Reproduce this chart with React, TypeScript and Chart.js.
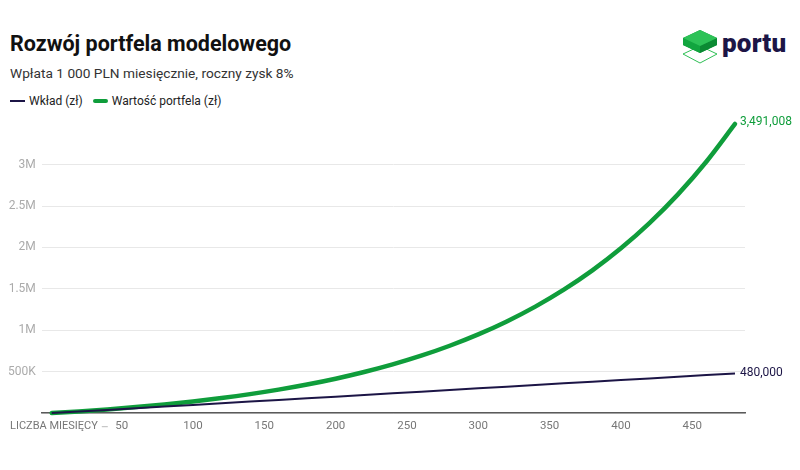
import React, { useEffect, useRef } from "react";
import { Chart, registerables } from "chart.js";

Chart.register(...registerables);

// ---- data ----
const months = [1, 20, 40, 60, 80, 100, 120, 140, 160, 180, 200, 220, 240, 260, 280, 300, 320, 340, 360, 380, 400, 420, 440, 460, 480];
const contributions = [1000, 20000, 40000, 60000, 80000, 100000, 120000, 140000, 160000, 180000, 200000, 220000, 240000, 260000, 280000, 300000, 320000, 340000, 360000, 380000, 400000, 420000, 440000, 460000, 480000];
const portfolioValues = [1000, 21318, 45668, 73478, 105239, 141515, 182946, 230268, 284315, 346038, 416538, 497060, 589020, 694052, 814014, 951026, 1107550, 1286234, 1490359, 1723500, 1989765, 2293875, 2641215, 3037905, 3491008];
const xTickValues = [50, 100, 150, 200, 250, 300, 350, 400, 450];
const yTickValues = [0, 500000, 1000000, 1500000, 2000000, 2500000, 3000000];
const yTickLabels = ["", "500K", "1M", "1.5M", "2M", "2.5M", "3M"];
const seriesLabels = ["Wkład (zł)", "Wartość portfela (zł)"];
const xAxisLabel = "LICZBA MIESIĘCY";
const titleText = "Rozwój portfela modelowego";
const subtitleText = "Wpłata 1 000 PLN miesięcznie, roczny zysk 8%";

const NAVY = "#1c1546";
const GREEN = "#0f9d3b";
const FONT = "Roboto, 'Noto Sans', sans-serif";

const endLabelsPlugin = {
  id: "endLabels",
  afterDatasetsDraw(chart: any) {
    const ctx = chart.ctx;
    chart.data.datasets.forEach((ds: any, i: number) => {
      const meta = chart.getDatasetMeta(i);
      const pt = meta.data[meta.data.length - 1];
      const v = ds.data[ds.data.length - 1].y;
      ctx.save();
      ctx.font = `12px ${FONT}`;
      ctx.fillStyle = ds.borderColor;
      ctx.textAlign = "left";
      ctx.textBaseline = "middle";
      ctx.fillText(v.toLocaleString("en-US"), pt.x + 5, pt.y - (i === 1 ? 2 : 0));
      ctx.restore();
    });
  },
};

const axisNamePlugin = {
  id: "axisName",
  afterDraw(chart: any) {
    const ctx = chart.ctx;
    const xs = chart.scales.x;
    const y = xs.top + 6 + 7;
    ctx.save();
    ctx.font = `11px ${FONT}`;
    ctx.fillStyle = "#777777";
    ctx.textAlign = "left";
    ctx.textBaseline = "middle";
    ctx.fillText(xAxisLabel, 10, y);
    const w = ctx.measureText(xAxisLabel).width;
    ctx.strokeStyle = "#bbbbbb";
    ctx.lineWidth = 1;
    ctx.beginPath();
    ctx.moveTo(10 + w + 4, y + 0.5);
    ctx.lineTo(10 + w + 10, y + 0.5);
    ctx.stroke();
    ctx.restore();
  },
};

function Logo() {
  return (
    <div style={{ position: "absolute", left: 681, top: 28, display: "flex", alignItems: "flex-start" }}>
      <svg width="38" height="38" viewBox="0 0 38 38">
        <polygon points="2,26 19,18 36,26 19,35" fill="none" stroke="#2fbf55" strokeWidth="1" />
        <polygon points="19,2 36,10 36,17 19,25 2,17 2,10" fill="#0f9a3a" />
        <polygon points="2,10 19,18 19,25 2,17" fill="#12a53f" />
        <polygon points="19,18 36,10 36,17 19,25" fill="#0b8a33" />
        <polygon points="19,2 36,10 19,18 2,10" fill="#2dc257" />
      </svg>
      <span
        style={{
          fontFamily: FONT,
          fontWeight: 900,
          fontSize: 26,
          color: NAVY,
          marginLeft: 3,
          marginTop: 1,
          letterSpacing: 0.2,
          lineHeight: "28px",
        }}
      >
        portu
      </span>
    </div>
  );
}

export default function App() {
  const canvasRef = useRef<HTMLCanvasElement | null>(null);

  useEffect(() => {
    if (!canvasRef.current) return;
    const chart = new Chart(canvasRef.current, {
      type: "line",
      data: {
        datasets: [
          {
            label: seriesLabels[0],
            data: months.map((m, i) => ({ x: m, y: contributions[i] })),
            borderColor: NAVY,
            backgroundColor: NAVY,
            borderWidth: 2,
            pointRadius: 0,
            fill: false,
            clip: false as any,
          },
          {
            label: seriesLabels[1],
            data: months.map((m, i) => ({ x: m, y: portfolioValues[i] })),
            borderColor: GREEN,
            backgroundColor: GREEN,
            borderWidth: 4.5,
            pointRadius: 0,
            fill: false,
            cubicInterpolationMode: "monotone",
            borderCapStyle: "round",
            clip: false as any,
          },
        ],
      },
      options: {
        animation: false,
        responsive: false,
        maintainAspectRatio: false,
        layout: { padding: { left: 2, right: 55, top: 9, bottom: 0 } },
        plugins: {
          legend: { display: false },
          tooltip: { enabled: false },
          title: { display: false },
        },
        scales: {
          x: {
            type: "linear",
            min: -6,
            max: 487,
            afterBuildTicks: (scale: any) => {
              scale.ticks = xTickValues.map((v) => ({ value: v }));
            },
            grid: { display: false, drawTicks: false },
            border: { display: true, color: "#5a5a5a", width: 1.5 },
            ticks: {
              autoSkip: false,
              maxRotation: 0,
              padding: 6,
              color: "#777777",
              font: { family: FONT, size: 11.5 },
              callback: (v: any) => String(v),
            },
          },
          y: {
            type: "linear",
            min: 0,
            max: 3500000,
            afterBuildTicks: (scale: any) => {
              scale.ticks = yTickValues.map((v) => ({ value: v }));
            },
            grid: { color: "#e8e8e8", lineWidth: 1, drawTicks: false },
            border: { display: false },
            ticks: {
              padding: 6,
              color: "#ababab",
              font: { family: FONT, size: 12 },
              callback: (v: any) => {
                const idx = yTickValues.indexOf(v);
                return idx >= 0 ? yTickLabels[idx] : "";
              },
            },
          },
        },
      },
      plugins: [endLabelsPlugin, axisNamePlugin],
    } as any);
    return () => chart.destroy();
  }, []);

  return (
    <div
      style={{
        position: "absolute",
        left: 0,
        top: 0,
        width: 800,
        height: 470,
        background: "#ffffff",
        fontFamily: FONT,
        overflow: "hidden",
      }}
    >
      <div style={{ position: "absolute", left: 10, top: 31, fontSize: 21.5, fontWeight: 700, color: "#111111", lineHeight: "26px" }}>
        {titleText}
      </div>
      <div style={{ position: "absolute", left: 10, top: 64, fontSize: 13.7, color: "#333333", lineHeight: "18px" }}>
        {subtitleText}
      </div>
      <div style={{ position: "absolute", left: 10, top: 93, display: "flex", alignItems: "center", fontSize: 12, color: "#222222", lineHeight: "16px" }}>
        <span style={{ display: "inline-block", width: 15, height: 2, background: NAVY, marginRight: 4 }} />
        <span>{seriesLabels[0]}</span>
        <span style={{ display: "inline-block", width: 15, height: 4, borderRadius: 2, background: GREEN, marginLeft: 10, marginRight: 4 }} />
        <span>{seriesLabels[1]}</span>
      </div>
      <Logo />
      <canvas ref={canvasRef} width={800} height={329} style={{ position: "absolute", left: 0, top: 110, width: 800, height: 329 }} />
    </div>
  );
}
